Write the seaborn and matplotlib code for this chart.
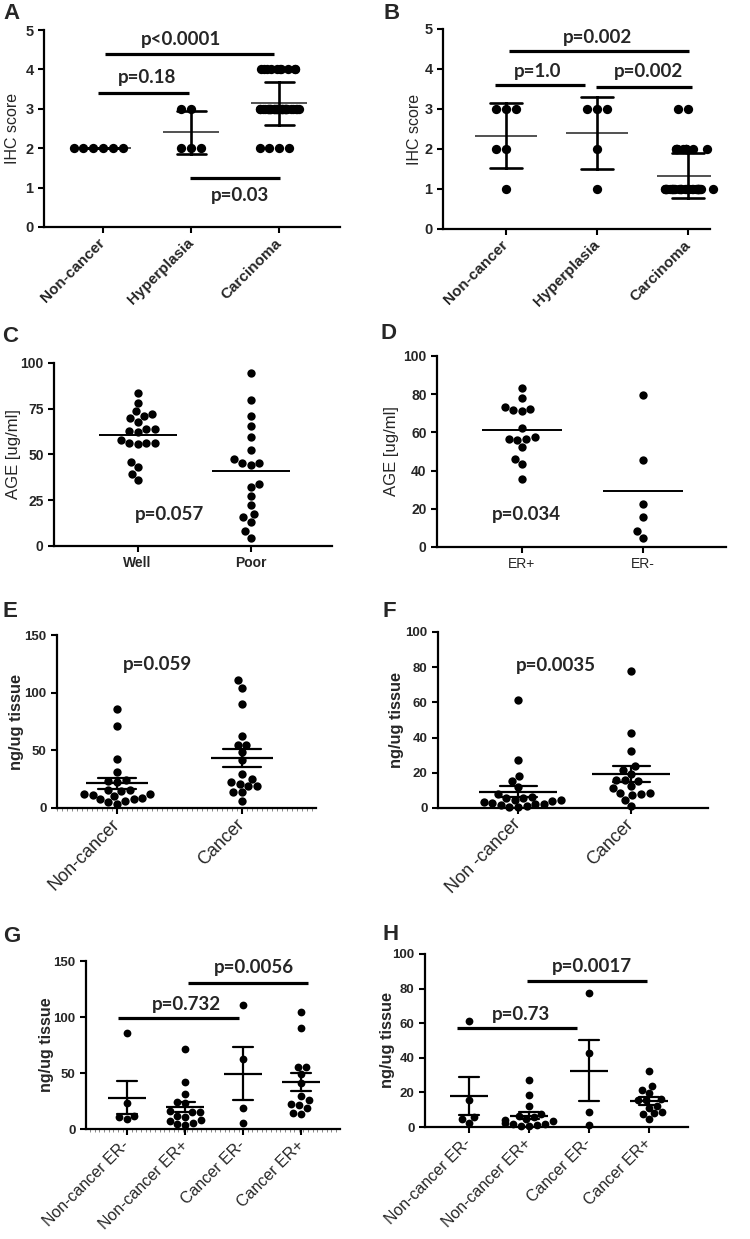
import warnings
warnings.filterwarnings("ignore")
import numpy as np
import pandas as pd
import matplotlib
matplotlib.use("Agg")
import matplotlib.pyplot as plt
from matplotlib.ticker import MultipleLocator
import seaborn as sns

# ---------------- data ----------------
# A: IHC score (mean +/- SD)
a_cats = ["Non-cancer", "Hyperplasia", "Carcinoma"]
a_noncancer = [2, 2, 2, 2, 2, 2]
a_hyperplasia = [3, 3, 2, 2, 2]
a_carcinoma = [4] * 10 + [3] * 30 + [2] * 4

# B: IHC score (mean +/- SD)
b_cats = ["Non-cancer", "Hyperplasia", "Carcinoma"]
b_noncancer = [3, 3, 3, 2, 2, 1]
b_hyperplasia = [3, 3, 3, 2, 1]
b_carcinoma = [3, 3] + [2] * 10 + [1] * 30

# C: AGE by grade (mean line)
c_cats = ["Well", "Poor"]
c_well = [83.6, 78.4, 72.4, 73.8, 69.8, 71.3, 68.0, 63.8, 62.9, 62.4,
          63.8, 57.8, 56.5, 55.8, 56.2, 56.5, 46.0, 43.3, 39.6, 36.0]
c_poor = [94.5, 79.6, 71.3, 65.8, 59.6, 52.4, 45.6, 44.5, 45.6, 47.8,
          33.8, 32.0, 27.3, 22.5, 17.3, 15.6, 13.1, 8.0, 4.5]

# D: AGE by ER status (mean line)
d_cats = ["ER+", "ER-"]
d_erpos = [83.4, 78.1, 72.2, 71.3, 71.7, 73.4, 62.1, 57.5, 56.6, 56.1,
           56.8, 52.3, 46.2, 43.5, 35.8]
d_erneg = [79.5, 45.5, 22.7, 15.7, 8.2, 4.7]

# G: ng/ug tissue by ER status (mean +/- SEM)
g_cats = ["Non-cancer ER-", "Non-cancer ER+", "Cancer ER-", "Cancer ER+"]
g_nc_erneg = [86.0, 23.5, 11.9, 10.4, 8.6]
g_nc_erpos = [71.1, 42.3, 31.0, 24.4, 22.9, 16.0, 15.5, 14.9, 11.9, 11.0,
              8.0, 7.4, 5.7, 4.8, 3.6]
g_ca_erneg = [110.7, 62.5, 19.0, 5.7]
g_ca_erpos = [104.3, 90.6, 55.0, 55.0, 48.7, 41.4, 29.8, 25.5, 22.6, 21.1,
              18.8, 14.2, 13.6]

# E: ng/ug tissue (mean +/- SEM)
e_cats = ["Non-cancer", "Cancer"]
e_noncancer = g_nc_erneg + g_nc_erpos
e_cancer = g_ca_erneg + g_ca_erpos

# H: ng/ug tissue by ER status (mean +/- SEM)
h_cats = ["Non-cancer ER-", "Non-cancer ER+", "Cancer ER-", "Cancer ER+"]
h_nc_erneg = [61.4, 15.4, 5.8, 4.6, 2.3]
h_nc_erpos = [27.3, 18.4, 11.9, 7.7, 6.5, 5.5, 4.5, 3.8, 3.2, 2.6,
              2.0, 1.5, 1.0, 0.6, 0.3]
h_ca_erneg = [77.7, 42.6, 8.4, 1.0]
h_ca_erpos = [32.2, 23.8, 21.5, 19.6, 16.1, 15.7, 15.4, 12.3, 11.2, 8.5,
              8.0, 7.5, 4.6]

# F: ng/ug tissue (mean +/- SEM)
f_cats = ["Non -cancer", "Cancer"]
f_noncancer = h_nc_erneg + h_nc_erpos
f_cancer = h_ca_erneg + h_ca_erpos

# ---------------- style ----------------
sns.set_style("ticks")
plt.rcParams["font.family"] = ["Liberation Sans", "DejaVu Sans"]
plt.rcParams["axes.edgecolor"] = "black"
np.random.seed(3)

W, H = 750, 1239
fig = plt.figure(figsize=(7.5, 12.39), dpi=100)


def rect(l, r, t, b):
    return [l / W, 1 - b / H, (r - l) / W, (b - t) / H]


def make_df(cats, groups):
    return pd.DataFrame({
        "group": [c for c, g in zip(cats, groups) for _ in g],
        "value": [float(v) for g in groups for v in g],
    })


def draw(ax, cats, groups, size, err, cap, ms, mew, elw, line_color="black",
         dense_min=None, jitter=0.2):
    df = make_df(cats, groups)
    if dense_min:
        cnt = df.groupby(["group", "value"])["value"].transform("size")
        dense = df[cnt >= dense_min]
        sparse = df[cnt < dense_min]
    else:
        dense = df.iloc[0:0]
        sparse = df
    sns.swarmplot(data=sparse, x="group", y="value", order=cats, color="black",
                  size=size, linewidth=0, ax=ax, clip_on=False)
    if len(dense):
        sns.stripplot(data=dense, x="group", y="value", order=cats,
                      color="black", size=size, linewidth=0, jitter=jitter,
                      ax=ax, clip_on=False)
    sns.pointplot(data=df, x="group", y="value", order=cats, errorbar=err,
                  capsize=cap, color="black", markers="_", linestyles="none",
                  markersize=ms, markeredgewidth=mew,
                  markeredgecolor=line_color,
                  err_kws={"linewidth": elw}, ax=ax)


def style(ax, xlim, ylim, yticks, ylabel, ylab_x, ylab_size, ylab_bold,
          xt_size, xt_bold, xt_rot, yt_size=9.5):
    ax.set_xlim(*xlim)
    ax.set_ylim(*ylim)
    ax.set_yticks(yticks)
    sns.despine(ax=ax)
    for s in ["left", "bottom"]:
        ax.spines[s].set_linewidth(1.6)
        ax.spines[s].set_color("black")
    ax.tick_params(axis="both", which="major", length=4, width=1.5,
                   color="black", direction="out")
    ax.set_xlabel("")
    ax.set_ylabel(ylabel, fontsize=ylab_size,
                  fontweight="bold" if ylab_bold else "normal", va="center")
    ax.yaxis.set_label_coords(ylab_x, 0.5)
    for t in ax.get_yticklabels():
        t.set_fontsize(yt_size)
        t.set_fontweight("bold")
    for t in ax.get_xticklabels():
        t.set_fontsize(xt_size)
        t.set_fontweight("bold" if xt_bold else "normal")
        if xt_rot:
            t.set_rotation(45)
            t.set_ha("right")
            t.set_rotation_mode("anchor")
            t.set_va("center")
    if xt_rot:
        ax.tick_params(axis="x", pad=6)


def bar(ax, x0, x1, y):
    ax.plot([x0, x1], [y, y], color="black", lw=2.3, solid_capstyle="butt",
            clip_on=False)


def ptext(ax, x, y, s, size=13.5):
    ax.text(x, y, s, ha="center", va="center", fontsize=size,
            fontweight="bold", family=["Lato", "DejaVu Sans"])


def letter(x, y, s):
    fig.text(x / W, 1 - y / H, s, fontsize=16, fontweight="bold",
             ha="left", va="top")


# ---------------- A ----------------
axA = fig.add_axes(rect(44, 340, 30, 227))
draw(axA, a_cats, [a_noncancer, a_hyperplasia, a_carcinoma], size=6.7,
     err="sd", cap=0.33, ms=40, mew=1.2, elw=1.9, line_color="#333333",
     dense_min=8, jitter=0.23)
style(axA, (-0.67, 2.69), (0, 5), [0, 1, 2, 3, 4, 5], "IHC score", -0.105,
      11.5, False, 11, True, True, yt_size=10.5)
bar(axA, 0.02, 1.94, 4.39)
ptext(axA, 0.88, 4.77, "p<0.0001")
bar(axA, -0.06, 0.98, 3.40)
ptext(axA, 0.50, 3.79, "p=0.18")
bar(axA, 0.99, 2.01, 1.24)
ptext(axA, 1.56, 0.79, "p=0.03")
letter(3, 3, "A")

# ---------------- B ----------------
axB = fig.add_axes(rect(443, 710, 29, 229))
draw(axB, b_cats, [b_noncancer, b_hyperplasia, b_carcinoma], size=6.7,
     err="sd", cap=0.35, ms=44, mew=1.2, elw=1.9, line_color="#333333",
     dense_min=8, jitter=0.29)
style(axB, (-0.69, 2.24), (0, 5), [0, 1, 2, 3, 4, 5], "IHC score", -0.105,
      11.5, False, 11, True, True, yt_size=10.5)
bar(axB, 0.03, 2.01, 4.45)
ptext(axB, 1.01, 4.80, "p=0.002")
bar(axB, -0.12, 0.87, 3.60)
ptext(axB, 0.35, 3.93, "p=1.0")
bar(axB, 0.99, 2.04, 3.55)
ptext(axB, 1.57, 3.93, "p=0.002")
letter(383, 3, "B")

# ---------------- C ----------------
axC = fig.add_axes(rect(54, 332, 363, 546))
draw(axC, c_cats, [c_well, c_poor], size=6.0, err=None, cap=0, ms=56,
     mew=1.4, elw=1.5)
style(axC, (-0.74, 1.72), (0, 100), [0, 25, 50, 75, 100], "AGE [ug/ml]",
      -0.147, 12, False, 10, True, False, yt_size=10)
ptext(axC, 0.28, 17, "p=0.057")
letter(2, 326, "C")

# ---------------- D ----------------
axD = fig.add_axes(rect(437, 726, 356, 547))
draw(axD, d_cats, [d_erpos, d_erneg], size=6.0, err=None, cap=0, ms=58,
     mew=1.4, elw=1.5)
style(axD, (-0.70, 1.69), (0, 100), [0, 20, 40, 60, 80, 100], "AGE [ug/ml]",
      -0.156, 12, False, 10, False, False, yt_size=10)
ptext(axD, 0.04, 16.8, "p=0.034")
letter(380, 323, "D")

# ---------------- E ----------------
axE = fig.add_axes(rect(57, 316, 635, 808))
draw(axE, e_cats, [e_noncancer, e_cancer], size=6.0, err="se", cap=0.30,
     ms=44, mew=1.6, elw=1.6)
style(axE, (-0.48, 1.59), (0, 150), [0, 50, 100, 150], "ng/ug tissue",
      -0.158, 11.8, True, 13, False, True)
axE.xaxis.set_minor_locator(MultipleLocator(0.04))
axE.tick_params(axis="x", which="minor", length=2, width=0.6, color="#777777")
ptext(axE, 0.32, 124, "p=0.059")
letter(3, 601, "E")

# ---------------- F ----------------
axF = fig.add_axes(rect(438, 708, 632, 808))
draw(axF, f_cats, [f_noncancer, f_cancer], size=6.0, err="se", cap=0.33,
     ms=56, mew=1.6, elw=1.6)
style(axF, (-0.71, 1.68), (0, 100), [0, 20, 40, 60, 80, 100], "ng/ug tissue",
      -0.152, 11.8, True, 13, False, True)
ptext(axF, 0.33, 81, "p=0.0035")
letter(382, 601, "F")

# ---------------- G ----------------
axG = fig.add_axes(rect(86, 340, 961, 1129))
draw(axG, g_cats, [g_nc_erneg, g_nc_erpos, g_ca_erneg, g_ca_erpos], size=5.6,
     err="se", cap=0.34, ms=27, mew=1.6, elw=1.6)
style(axG, (-0.71, 3.67), (0, 150), [0, 50, 100, 150], "ng/ug tissue",
      -0.155, 11.5, True, 11.5, False, True)
axG.xaxis.set_minor_locator(MultipleLocator(0.08))
axG.tick_params(axis="x", which="minor", length=2, width=0.6, color="#777777")
bar(axG, 1.05, 3.12, 130)
ptext(axG, 2.18, 144, "p=0.0056")
bar(axG, -0.16, 1.93, 99)
ptext(axG, 1.02, 111, "p=0.732")
letter(3, 926, "G")

# ---------------- H ----------------
axH = fig.add_axes(rect(425, 688, 954, 1127))
draw(axH, h_cats, [h_nc_erneg, h_nc_erpos, h_ca_erneg, h_ca_erpos], size=5.6,
     err="se", cap=0.33, ms=28, mew=1.6, elw=1.6)
style(axH, (-0.73, 3.65), (0, 100), [0, 20, 40, 60, 80, 100], "ng/ug tissue",
      -0.141, 11.8, True, 11.5, False, True)
bar(axH, 0.97, 2.97, 84.4)
ptext(axH, 2.05, 92.5, "p=0.0017")
bar(axH, -0.20, 1.80, 57.2)
ptext(axH, 0.87, 65.3, "p=0.73")
letter(382, 924, "H")

fig.savefig("out.png", dpi=100)
